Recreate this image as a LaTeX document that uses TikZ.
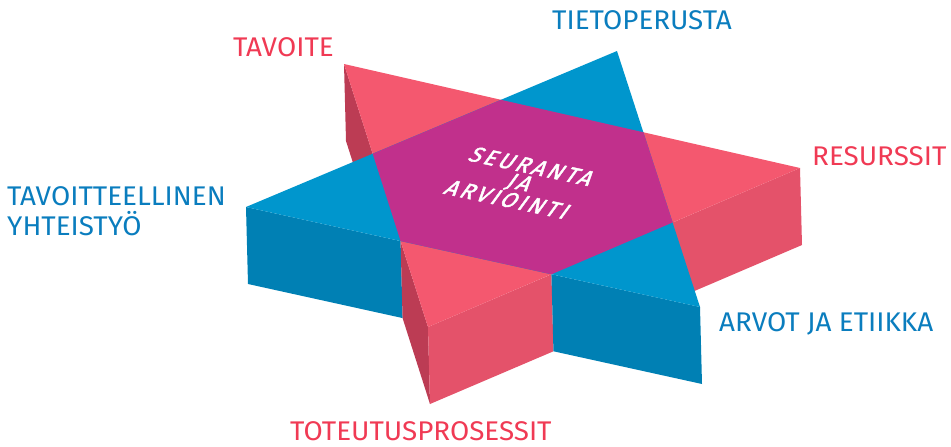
\documentclass[tikz,border=0pt]{standalone}
\usepackage{fontspec}
\setmainfont{Fira Sans}
\definecolor{pinktop}{RGB}{244,88,111}
\definecolor{pinkfront}{RGB}{228,82,106}
\definecolor{pinkdark}{RGB}{188,60,84}
\definecolor{bluetop}{RGB}{0,150,205}
\definecolor{blueside}{RGB}{0,128,180}
\definecolor{overlap}{RGB}{193,48,140}
\definecolor{labelpink}{RGB}{240,58,84}
\definecolor{labelblue}{RGB}{10,125,190}
\begin{document}
\begin{tikzpicture}[x=1pt,y=-1pt,
  lbl/.style={inner sep=0pt, anchor=base west, xscale=1.03, font=\fontsize{27}{30}\selectfont},
  pinklbl/.style={lbl, text=labelpink},
  bluelbl/.style={lbl, text=labelblue},
  ext/.style={shift={(2,77)}}]
\useasboundingbox (0,0) rectangle (951,447);
% triangle vertices
\coordinate (A) at (344,64);
\coordinate (B) at (800,168);
\coordinate (C) at (428,327);
\coordinate (T) at (617,51);
\coordinate (L) at (246,207);
\coordinate (R) at (700,307);
% intersections
\coordinate (X1) at (intersection of A--B and T--L);
\coordinate (X2) at (intersection of A--B and T--R);
\coordinate (X3) at (intersection of B--C and T--R);
\coordinate (X4) at (intersection of B--C and L--R);
\coordinate (X5) at (intersection of C--A and L--R);
\coordinate (X6) at (intersection of C--A and T--L);
% side faces
\fill[pinkdark] (A) -- (X6) -- ([ext]X6) -- ([ext]A) -- cycle;
\fill[blueside] (L) -- (X5) -- ([ext]X5) -- ([ext]L) -- cycle;
\fill[pinkdark] (X5) -- (C) -- ([ext]C) -- ([ext]X5) -- cycle;
\fill[pinkfront] (C) -- (X4) -- ([ext]X4) -- ([ext]C) -- cycle;
\fill[blueside] (X4) -- (R) -- ([ext]R) -- ([ext]X4) -- cycle;
\fill[pinkfront] (X3) -- (B) -- ([ext]B) -- ([ext]X3) -- cycle;
% top faces
\fill[pinktop] (A) -- (B) -- (C) -- cycle;
\fill[bluetop] (T) -- (R) -- (L) -- cycle;
\fill[overlap] (X1) -- (X2) -- (X3) -- (X4) -- (X5) -- (X6) -- cycle;
% centre text
\node[text=white, align=center, inner sep=0pt, rotate=-12, xslant=0.45,
  font=\fontsize{22}{18}\selectfont\addfontfeatures{LetterSpace=14,FakeBold=2}] (mid) at (520,183)
  {SEURANTA\\JA\\ARVIOINTI};
% labels
\node[pinklbl] (tavoite) at (233,56) {TAVOITE};
\node[bluelbl] (tieto) at (552,30) {TIETOPERUSTA};
\node[pinklbl] (resurssit) at (812,165) {RESURSSIT};
\node[bluelbl] (tavyht1) at (7,205) {TAVOITTEELLINEN};
\node[bluelbl] (tavyht2) at (7,235) {YHTEISTYÖ};
\node[bluelbl] (arvot) at (719,331) {ARVOT JA ETIIKKA};
\node[pinklbl] (toteutus) at (290,440) {TOTEUTUSPROSESSIT};
\end{tikzpicture}
\end{document}
